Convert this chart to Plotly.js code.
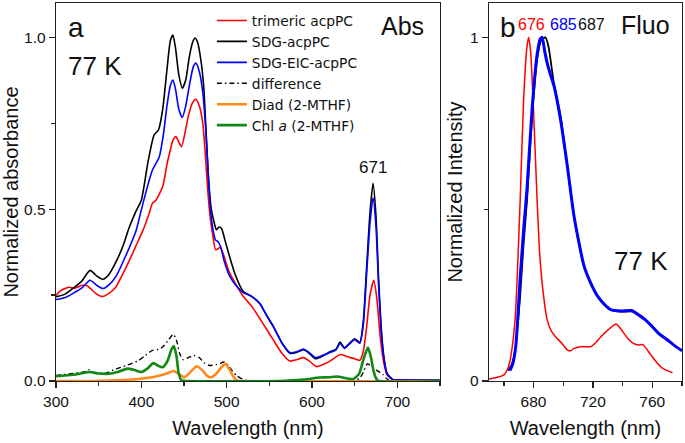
<!DOCTYPE html>
<html>
<head>
<meta charset="utf-8">
<script src="https://cdn.plot.ly/plotly-3.0.1.min.js"></script>
<style>html,body{margin:0;padding:0;background:#fff;}#chart{width:685px;height:443px;}</style>
</head>
<body>
<div id="chart"></div>
<script>
// ---- Panel a: absorbance at 77 K ----
const trimericX = [300,305,315,322,330,336,340,348,355,362,370,378,386,394,402,409,413,417,425,430,433,437,440.5,444,447,451,455,460,464,468,472,475,478,481,484,487,490,492.5,496,503,510,519,530,539,547,555,565,574,582,590,597,605,613,621,627,633,640,645,650,656,660,664,668,672.5,676,680,684,688,695,710,750];
const trimericY = [0.249,0.262,0.273,0.270,0.278,0.278,0.270,0.252,0.246,0.255,0.273,0.310,0.351,0.395,0.439,0.487,0.517,0.526,0.565,0.630,0.662,0.700,0.711,0.695,0.682,0.720,0.770,0.810,0.820,0.800,0.750,0.660,0.550,0.470,0.420,0.382,0.385,0.390,0.370,0.317,0.285,0.248,0.215,0.181,0.150,0.118,0.080,0.058,0.062,0.068,0.058,0.042,0.048,0.058,0.068,0.077,0.072,0.068,0.065,0.060,0.085,0.157,0.250,0.293,0.240,0.128,0.055,0.018,0.004,0.002,0.002];

const sdgX = [300,310,320,330,340,348,355,362,370,378,386,393,400,408,415,420,425,430,434,437,440,444,448,452,456,460,463,466,470,473,476,479,482,485,488,491,494,498,504,510,519,530,539,547,555,565,574,582,590,597,604,612,621,628,633,638,644,650,656,660,664,668,671.5,675,678,681,684,688,695,710,750];
const sdgY = [0.245,0.252,0.270,0.290,0.322,0.305,0.296,0.310,0.345,0.390,0.448,0.490,0.526,0.640,0.716,0.730,0.790,0.905,0.990,1.007,0.970,0.890,0.852,0.875,0.940,0.985,0.998,0.985,0.930,0.860,0.720,0.580,0.500,0.465,0.440,0.448,0.444,0.410,0.357,0.310,0.262,0.245,0.225,0.190,0.157,0.110,0.081,0.083,0.091,0.080,0.065,0.072,0.085,0.092,0.113,0.097,0.110,0.123,0.112,0.170,0.330,0.490,0.575,0.480,0.300,0.160,0.075,0.022,0.004,0.003,0.002];

const eicX = [300,310,320,330,340,348,355,362,370,382,394,398,405,413,421,426,430,434,437,440,444,448,452,457,461,464,468,472,475,478,481,484,487,490,493,497,504,512,519,530,539,547,555,565,574,582,590,597,604,612,621,628,633,638,644,650,656,660,664,668,671.5,675,678,681,684,688,695,710,750];
const eicY = [0.237,0.242,0.255,0.270,0.293,0.278,0.269,0.280,0.303,0.366,0.439,0.478,0.546,0.614,0.652,0.720,0.800,0.860,0.876,0.850,0.790,0.767,0.800,0.870,0.915,0.925,0.900,0.840,0.750,0.620,0.500,0.440,0.410,0.405,0.390,0.350,0.303,0.275,0.258,0.245,0.225,0.190,0.157,0.110,0.083,0.085,0.093,0.082,0.068,0.074,0.083,0.090,0.110,0.095,0.108,0.120,0.110,0.160,0.310,0.460,0.533,0.450,0.280,0.150,0.070,0.020,0.004,0.003,0.002];

const diffX = [300,320,335,339,345,358,370,382,397,405,413,420,425,432,437.5,441,445,449,455,462,468,474,480,488,494,497.5,502,507,512,518,524,600,650,656,660,665,670,676,683,688,692,750];
const diffY = [0.016,0.022,0.028,0.033,0.024,0.023,0.035,0.045,0.060,0.075,0.089,0.092,0.099,0.120,0.136,0.120,0.080,0.062,0.068,0.074,0.068,0.052,0.045,0.048,0.053,0.056,0.045,0.028,0.015,0.006,0.001,0.000,0.002,0.008,0.025,0.050,0.042,0.031,0.019,0.006,0.000,0.000];

const diadX = [300,340,370,397,417,430,437.5,443,450,456,465,472,477,482,488,494,498.5,503,508,512,520,750];
const diadY = [0.000,0.000,0.002,0.006,0.013,0.022,0.029,0.022,0.011,0.022,0.043,0.030,0.015,0.011,0.022,0.040,0.050,0.035,0.012,0.002,0.000,0.000];

const chlX = [300,320,339,350,362,372,384,392,400,407,414,420,425,431,435,438,441,444,447,455,560,590,609,620,629,640,648.5,655,660,665.5,669,672,675,678,750];
const chlY = [0.014,0.018,0.026,0.022,0.021,0.026,0.036,0.032,0.026,0.036,0.052,0.044,0.040,0.060,0.090,0.102,0.075,0.020,0.002,0.000,0.000,0.004,0.010,0.011,0.013,0.008,0.006,0.020,0.060,0.097,0.070,0.031,0.008,0.000,0.000];

// ---- Panel b: fluorescence at 77 K ----
const fluoTriX = [650,655,660,663,665,667.7,671,673.3,675.5,676.7,678,679.7,682.4,684,685.8,689.2,692,694.8,699,702.8,705,707.3,711.8,718.6,722,725.4,730,735.6,739,743.5,747,750.3,753.7,757,761.6,766,770,773.6];
const fluoTriY = [0.006,0.010,0.018,0.040,0.080,0.187,0.527,0.818,0.970,1.000,0.960,0.818,0.527,0.380,0.285,0.178,0.145,0.129,0.110,0.090,0.088,0.095,0.100,0.100,0.112,0.129,0.148,0.166,0.150,0.124,0.110,0.105,0.106,0.088,0.061,0.040,0.030,0.024];

const fluoSdgX = [663,665.5,667.7,669.5,671,673.3,675.6,679,682.4,685,688,690,693.7,698.2,702.8,707.3,714,718,723,728,732,739,746.9,750,754.8,760,763.9,770,775,779.7];
const fluoSdgY = [0.030,0.050,0.090,0.170,0.250,0.400,0.527,0.770,0.935,0.990,1.000,0.975,0.867,0.770,0.624,0.479,0.333,0.290,0.246,0.220,0.207,0.202,0.202,0.193,0.178,0.160,0.139,0.120,0.103,0.090];

const fluoEicX = [664,666,668,671,673.5,675.6,679,682.4,684.5,685.8,687.5,689.2,691.5,693.7,698.2,702.8,707.3,714,718,723,728,732,739,746,750,754.8,760,763.9,770,775,780];
const fluoEicY = [0.030,0.050,0.100,0.300,0.450,0.560,0.790,0.950,0.995,1.000,0.960,0.925,0.890,0.860,0.760,0.624,0.479,0.335,0.290,0.248,0.222,0.208,0.204,0.205,0.195,0.180,0.158,0.140,0.120,0.103,0.088];

const seriesNames = ['trimeric acpPC','SDG-acpPC','SDG-EIC-acpPC','difference','Diad (2-MTHF)','Chl <i>a</i> (2-MTHF)'];
const peakLabels = ['676','685','687'];

const FONT = 'Liberation Sans, Arial, Helvetica, sans-serif';
const RED = '#ff0000', BLACK = '#000000', BLUE = '#0000ff', ORANGE = '#ff8a1c', GREEN = '#118811';

const sp = (w, c, extra) => Object.assign({color: c, width: w, shape: 'spline', smoothing: 0.6}, extra || {});

const traces = [
  {x: trimericX, y: trimericY, name: seriesNames[0], mode: 'lines', line: sp(1.6, RED), xaxis: 'x', yaxis: 'y'},
  {x: sdgX, y: sdgY, name: seriesNames[1], mode: 'lines', line: sp(1.6, BLACK), xaxis: 'x', yaxis: 'y'},
  {x: eicX, y: eicY, name: seriesNames[2], mode: 'lines', line: sp(1.6, BLUE), xaxis: 'x', yaxis: 'y'},
  {x: diffX, y: diffY, name: seriesNames[3], mode: 'lines', line: sp(1.4, BLACK, {dash: '5px,3px,1.5px,3px'}), xaxis: 'x', yaxis: 'y'},
  {x: diadX, y: diadY, name: seriesNames[4], mode: 'lines', line: sp(2.6, ORANGE), xaxis: 'x', yaxis: 'y'},
  {x: chlX, y: chlY, name: seriesNames[5], mode: 'lines', line: sp(2.6, GREEN), xaxis: 'x', yaxis: 'y'},
  {x: fluoTriX, y: fluoTriY, name: 'trimeric acpPC fluo', showlegend: false, mode: 'lines', line: sp(1.5, RED), xaxis: 'x2', yaxis: 'y2'},
  {x: fluoSdgX, y: fluoSdgY, name: 'SDG-acpPC fluo', showlegend: false, mode: 'lines', line: sp(1.8, BLACK), xaxis: 'x2', yaxis: 'y2'},
  {x: fluoEicX, y: fluoEicY, name: 'SDG-EIC-acpPC fluo', showlegend: false, mode: 'lines', line: sp(3, BLUE), xaxis: 'x2', yaxis: 'y2'}
];

const axisCommon = {
  showgrid: false, zeroline: false, showline: true, mirror: true,
  linecolor: '#222', linewidth: 1.3,
  ticks: 'outside', ticklen: 6, tickwidth: 1.3, tickcolor: '#222',
  tickfont: {family: FONT, size: 15.5, color: '#111'}
};
const minorCommon = {ticks: 'outside', ticklen: 4, tickwidth: 1.3, tickcolor: '#222', showgrid: false};
const titleFont = {family: FONT, size: 20, color: '#111'};

const layout = {
  width: 685, height: 443,
  margin: {l: 56, r: 3, t: 3, b: 62},
  paper_bgcolor: '#fff', plot_bgcolor: '#fff',
  font: {family: FONT, color: '#111'},
  showlegend: true,
  legend: {
    x: 0.249, y: 0.9947, xanchor: 'left', yanchor: 'top',
    bgcolor: 'rgba(0,0,0,0)', borderwidth: 0,
    font: {family: 'DejaVu Sans, Liberation Sans, sans-serif', size: 13.8, color: '#111'},
    tracegroupgap: 0, itemwidth: 30
  },
  xaxis: Object.assign({}, axisCommon, {
    domain: [0, 0.6134], range: [300, 750], tick0: 300, dtick: 100,
    minor: Object.assign({}, minorCommon, {dtick: 50}),
    title: {text: 'Wavelength (nm)', font: titleFont, standoff: 12}
  }),
  yaxis: Object.assign({}, axisCommon, {
    domain: [0, 1], range: [0, 1.1], tick0: 0, dtick: 0.5, tickformat: '.1f',
    minor: Object.assign({}, minorCommon, {dtick: 0.25}),
    title: {text: 'Normalized absorbance', font: titleFont, standoff: 4}
  }),
  xaxis2: Object.assign({}, axisCommon, {
    domain: [0.6917, 1], range: [650, 780], tick0: 680, dtick: 40, anchor: 'y2',
    minor: Object.assign({}, minorCommon, {tick0: 660, dtick: 20}),
    title: {text: 'Wavelength (nm)', font: titleFont, standoff: 12}
  }),
  yaxis2: Object.assign({}, axisCommon, {
    domain: [0, 1], range: [0, 1.1], tick0: 0, dtick: 1, anchor: 'x2',
    minor: Object.assign({}, minorCommon, {dtick: 0.5}),
    title: {text: 'Normalized Intensity', font: titleFont, standoff: 2}
  }),
  annotations: [
    {xref: 'x domain', yref: 'y domain', x: 0.051, y: 0.935, text: 'a', showarrow: false, font: {family: FONT, size: 28, color: '#111'}, xanchor: 'center', yanchor: 'middle'},
    {xref: 'x domain', yref: 'y domain', x: 0.1003, y: 0.833, text: '77 K', showarrow: false, font: {family: FONT, size: 26, color: '#111'}, xanchor: 'center', yanchor: 'middle'},
    {xref: 'x domain', yref: 'y domain', x: 0.902, y: 0.939, text: 'Abs', showarrow: false, font: {family: FONT, size: 25, color: '#111'}, xanchor: 'center', yanchor: 'middle'},
    {xref: 'x', yref: 'y', x: 671, y: 0.62, text: '671', showarrow: false, font: {family: FONT, size: 17, color: '#111'}, xanchor: 'center', yanchor: 'middle'},
    {xref: 'x2 domain', yref: 'y2 domain', x: 0.0959, y: 0.934, text: 'b', showarrow: false, font: {family: FONT, size: 28, color: '#111'}, xanchor: 'center', yanchor: 'middle'},
    {xref: 'x2 domain', yref: 'y2 domain', x: 0.22, y: 0.943, text: peakLabels[0], showarrow: false, font: {family: FONT, size: 16, color: RED}, xanchor: 'center', yanchor: 'middle'},
    {xref: 'x2 domain', yref: 'y2 domain', x: 0.386, y: 0.943, text: peakLabels[1], showarrow: false, font: {family: FONT, size: 16, color: BLUE}, xanchor: 'center', yanchor: 'middle'},
    {xref: 'x2 domain', yref: 'y2 domain', x: 0.531, y: 0.943, text: peakLabels[2], showarrow: false, font: {family: FONT, size: 16, color: '#111'}, xanchor: 'center', yanchor: 'middle'},
    {xref: 'x2 domain', yref: 'y2 domain', x: 0.813, y: 0.943, text: 'Fluo', showarrow: false, font: {family: FONT, size: 25, color: '#111'}, xanchor: 'center', yanchor: 'middle'},
    {xref: 'x2 domain', yref: 'y2 domain', x: 0.788, y: 0.317, text: '77 K', showarrow: false, font: {family: FONT, size: 26, color: '#111'}, xanchor: 'center', yanchor: 'middle'}
  ]
};

Plotly.newPlot('chart', traces, layout, {displayModeBar: false, staticPlot: true});
</script>
</body>
</html>
